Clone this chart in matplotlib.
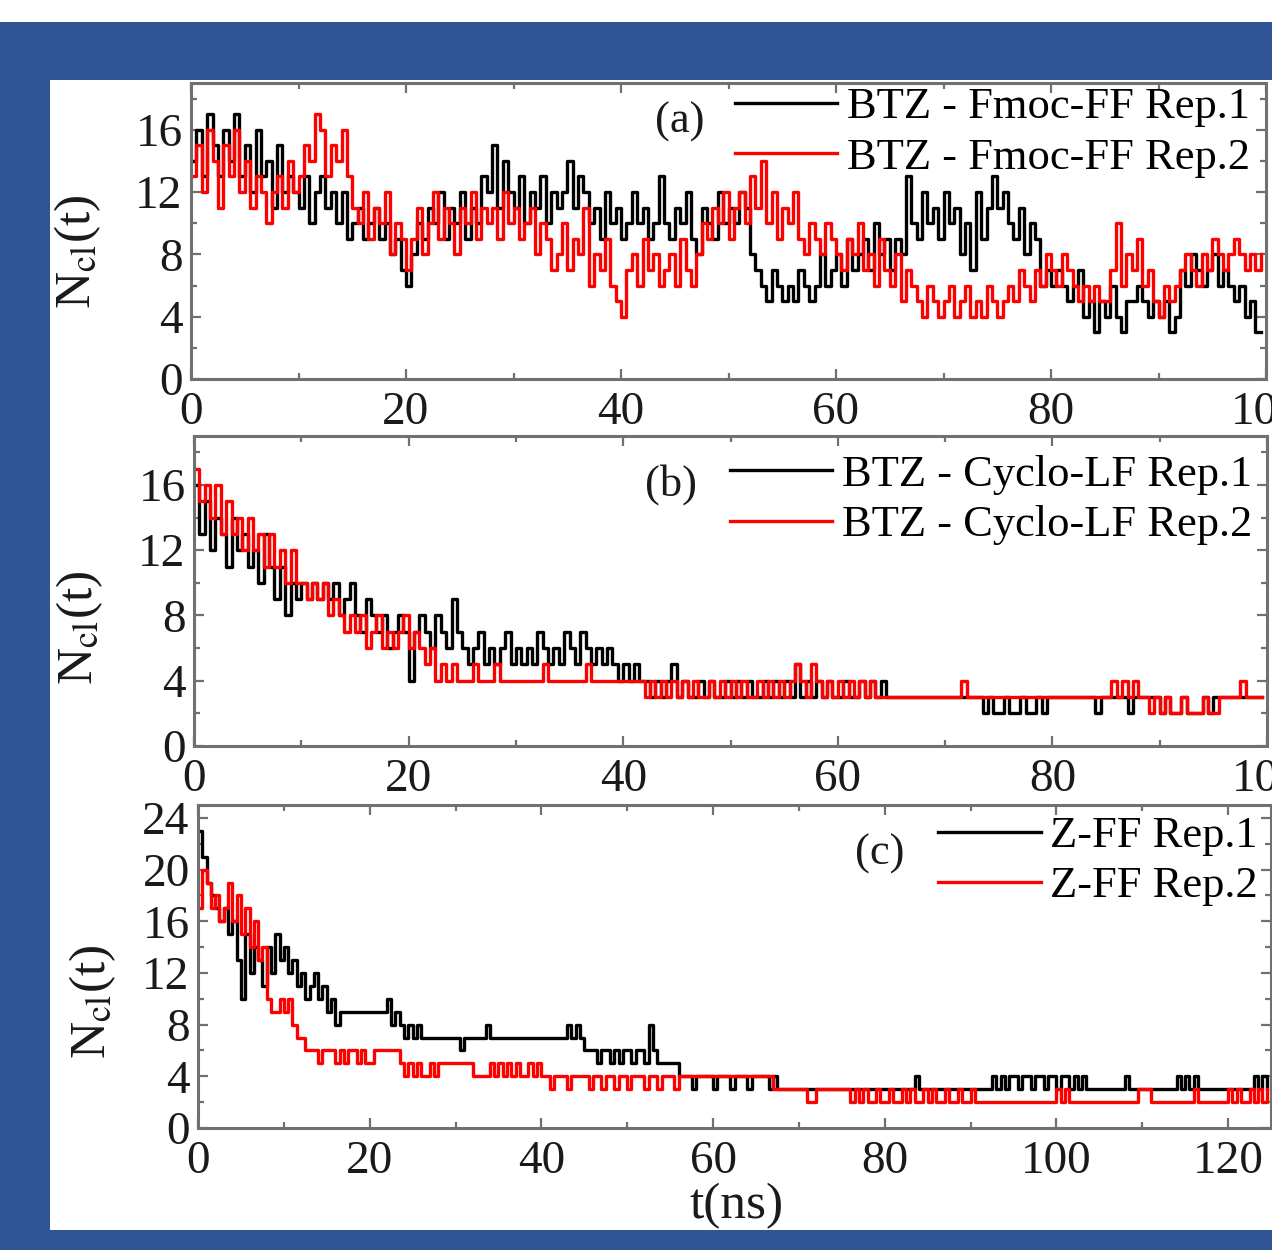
import numpy as np
import matplotlib.pyplot as plt
from matplotlib.patches import Rectangle
from matplotlib.ticker import MultipleLocator

plt.rcParams['font.family'] = ['Liberation Serif', 'DejaVu Serif']
plt.rcParams['mathtext.fontset'] = 'stix'

DT = 0.5  # ns between samples

# (a) BTZ - Fmoc-FF
fmoc_rep1 = [
    14, 16, 13, 17, 15, 13, 16, 14, 17, 13,
    15, 12, 16, 13, 14, 11, 15, 12, 13, 12,
    11, 13, 10, 12, 13, 11, 12, 10, 12, 9,
    10, 11, 9, 10, 11, 9, 10, 8, 9, 7,
    6, 8, 10, 9, 11, 10, 12, 9, 11, 10,
    12, 9, 11, 10, 13, 12, 15, 11, 14, 12,
    11, 13, 10, 12, 11, 13, 10, 12, 11, 12,
    14, 11, 13, 12, 10, 11, 9, 12, 10, 11,
    9, 10, 12, 10, 11, 9, 10, 13, 10, 9,
    11, 10, 12, 9, 8, 11, 10, 9, 12, 10,
    11, 10, 12, 11, 8, 7, 6, 5, 7, 6,
    5, 6, 5, 7, 6, 5, 6, 8, 6, 7,
    8, 6, 9, 7, 8, 9, 7, 10, 8, 9,
    7, 9, 8, 13, 10, 9, 12, 10, 11, 9,
    12, 10, 11, 8, 10, 7, 12, 9, 11, 13,
    11, 12, 10, 9, 11, 8, 10, 9, 6, 7,
    6, 7, 6, 5, 6, 7, 4, 5, 3, 5,
    4, 6, 4, 3, 5, 5, 6, 5, 4, 5,
    4, 5, 3, 4, 7, 6, 8, 7, 6, 7,
    8, 6, 7, 6, 5, 6, 4, 5, 3, 3,
]
fmoc_rep2 = [
    13, 15, 12, 16, 14, 11, 15, 13, 16, 12,
    14, 11, 13, 12, 10, 12, 13, 11, 14, 12,
    13, 15, 14, 17, 16, 13, 15, 14, 16, 13,
    11, 10, 12, 9, 11, 10, 12, 8, 10, 9,
    7, 9, 11, 8, 10, 12, 9, 11, 10, 8,
    11, 10, 12, 9, 11, 10, 11, 9, 12, 10,
    11, 9, 10, 11, 8, 10, 9, 7, 8, 10,
    7, 9, 8, 11, 6, 8, 7, 9, 6, 5,
    4, 7, 8, 6, 9, 7, 8, 6, 7, 8,
    6, 9, 7, 6, 8, 10, 9, 11, 10, 12,
    9, 11, 12, 10, 13, 11, 14, 10, 12, 9,
    11, 10, 12, 9, 8, 10, 9, 8, 10, 9,
    8, 7, 9, 8, 10, 7, 8, 6, 9, 7,
    6, 8, 5, 7, 6, 5, 4, 6, 5, 4,
    5, 6, 4, 5, 6, 4, 5, 4, 6, 5,
    4, 5, 6, 5, 7, 6, 5, 7, 6, 8,
    7, 6, 8, 7, 6, 5, 6, 5, 6, 5,
    5, 7, 10, 6, 8, 7, 9, 6, 7, 5,
    4, 6, 5, 6, 7, 8, 7, 6, 8, 7,
    9, 8, 7, 8, 9, 8, 7, 8, 7, 8,
]

# (b) BTZ - Cyclo-LF
cyclo_rep1 = [
    16, 13, 15, 12, 14, 13, 11, 14, 12, 13,
    11, 12, 10, 13, 11, 9, 11, 8, 10, 9,
    10, 9, 10, 9, 10, 9, 10, 8, 9, 10,
    8, 7, 9, 8, 7, 8, 6, 7, 8, 7,
    4, 7, 8, 7, 6, 8, 7, 6, 9, 7,
    6, 5, 6, 7, 5, 6, 5, 6, 7, 5,
    6, 5, 6, 5, 7, 6, 5, 6, 5, 7,
    6, 5, 7, 6, 5, 6, 5, 6, 5, 4,
    5, 4, 5, 4, 4, 3, 4, 3, 4, 5,
    3, 4, 3, 3, 4, 3, 4, 3, 3, 4,
    3, 4, 3, 4, 3, 3, 4, 3, 4, 3,
    4, 3, 5, 3, 4, 3, 4, 3, 4, 3,
    3, 4, 3, 3, 4, 3, 4, 3, 4, 3,
    3, 3, 3, 3, 3, 3, 3, 3, 3, 3,
    3, 3, 3, 3, 3, 3, 3, 2, 3, 2,
    2, 3, 2, 2, 3, 2, 2, 3, 2, 3,
    3, 3, 3, 3, 3, 3, 3, 3, 2, 3,
    3, 3, 3, 3, 2, 3, 3, 3, 3, 3,
    2, 3, 2, 2, 3, 2, 2, 2, 3, 2,
    3, 3, 3, 3, 3, 3, 3, 3, 3, 3,
]
cyclo_rep2 = [
    17, 15, 16, 14, 16, 13, 15, 13, 14, 12,
    14, 12, 13, 11, 13, 11, 12, 10, 12, 10,
    10, 9, 10, 9, 10, 8, 9, 8, 7, 8,
    7, 8, 6, 7, 8, 6, 7, 6, 7, 8,
    6, 7, 6, 5, 6, 4, 5, 4, 5, 4,
    4, 4, 5, 4, 4, 4, 5, 4, 4, 4,
    4, 4, 4, 4, 4, 5, 4, 4, 4, 4,
    4, 4, 4, 5, 4, 4, 4, 4, 4, 4,
    4, 4, 4, 4, 3, 4, 3, 4, 3, 4,
    3, 4, 3, 4, 3, 3, 4, 3, 4, 3,
    4, 3, 4, 3, 3, 4, 3, 4, 3, 4,
    3, 4, 5, 4, 3, 5, 4, 3, 4, 3,
    4, 3, 4, 3, 4, 3, 4, 3, 3, 3,
    3, 3, 3, 3, 3, 3, 3, 3, 3, 3,
    3, 3, 3, 4, 3, 3, 3, 3, 3, 3,
    3, 3, 3, 3, 3, 3, 3, 3, 3, 3,
    3, 3, 3, 3, 3, 3, 3, 3, 3, 3,
    3, 4, 3, 4, 3, 4, 3, 3, 2, 3,
    2, 3, 2, 2, 3, 2, 2, 2, 3, 2,
    2, 3, 3, 3, 3, 4, 3, 3, 3, 3,
]

# (c) Z-FF
zff_rep1 = [
    23, 21, 19, 18, 17, 16, 17, 15, 16, 13,
    10, 15, 12, 14, 13, 11, 14, 12, 15, 13,
    14, 12, 13, 11, 12, 10, 11, 12, 10, 11,
    9, 10, 8, 9, 9, 9, 9, 9, 9, 9,
    9, 9, 9, 9, 10, 8, 9, 8, 7, 8,
    7, 8, 7, 7, 7, 7, 7, 7, 7, 7,
    7, 6, 7, 7, 7, 7, 7, 8, 7, 7,
    7, 7, 7, 7, 7, 7, 7, 7, 7, 7,
    7, 7, 7, 7, 7, 7, 8, 7, 8, 7,
    6, 6, 6, 5, 6, 6, 5, 6, 5, 6,
    6, 5, 6, 6, 5, 8, 6, 5, 5, 5,
    5, 5, 4, 4, 4, 3, 4, 4, 4, 4,
    3, 4, 4, 4, 3, 4, 4, 4, 3, 4,
    4, 4, 4, 3, 4, 3, 3, 3, 3, 3,
    3, 3, 3, 3, 3, 3, 3, 3, 3, 3,
    3, 3, 3, 3, 3, 3, 3, 3, 3, 3,
    3, 3, 3, 3, 3, 3, 3, 4, 3, 3,
    3, 3, 3, 3, 3, 3, 3, 3, 3, 3,
    3, 3, 3, 3, 3, 4, 3, 4, 3, 4,
    4, 3, 4, 4, 3, 4, 4, 3, 4, 4,
    3, 4, 4, 3, 4, 3, 4, 3, 3, 3,
    3, 3, 3, 3, 3, 3, 4, 3, 3, 3,
    3, 3, 3, 3, 3, 3, 3, 3, 4, 3,
    4, 3, 4, 3, 3, 3, 3, 3, 3, 3,
    3, 3, 3, 3, 3, 3, 4, 3, 4, 3,
]
zff_rep2 = [
    17, 20, 19, 17, 18, 16, 17, 19, 16, 18,
    15, 17, 14, 16, 13, 14, 10, 9, 9, 10,
    9, 10, 8, 7, 7, 6, 6, 6, 5, 6,
    6, 6, 5, 6, 5, 6, 6, 5, 6, 5,
    5, 6, 6, 6, 6, 6, 6, 5, 4, 5,
    4, 5, 4, 4, 5, 4, 5, 5, 5, 5,
    5, 5, 5, 5, 4, 4, 4, 4, 5, 4,
    5, 4, 5, 4, 5, 4, 4, 5, 4, 5,
    4, 4, 3, 4, 4, 4, 3, 4, 4, 4,
    4, 3, 4, 4, 3, 4, 4, 3, 4, 4,
    3, 4, 4, 4, 3, 4, 4, 3, 4, 4,
    4, 3, 4, 4, 4, 4, 4, 4, 4, 4,
    4, 4, 4, 4, 4, 4, 4, 4, 4, 4,
    4, 4, 4, 4, 3, 3, 3, 3, 3, 3,
    3, 3, 2, 2, 3, 3, 3, 3, 3, 3,
    3, 3, 2, 3, 2, 3, 2, 2, 3, 2,
    2, 3, 2, 2, 3, 2, 3, 2, 2, 3,
    2, 3, 2, 2, 3, 2, 2, 3, 2, 2,
    3, 2, 2, 2, 2, 2, 2, 2, 2, 2,
    2, 2, 2, 2, 2, 2, 2, 2, 2, 2,
    3, 2, 3, 2, 2, 2, 2, 2, 2, 2,
    2, 2, 2, 2, 2, 2, 2, 2, 2, 3,
    3, 3, 2, 2, 2, 2, 2, 2, 2, 2,
    2, 2, 3, 2, 2, 2, 2, 2, 2, 2,
    3, 2, 3, 2, 2, 3, 2, 3, 2, 3,
]

series = [
    (fmoc_rep1, fmoc_rep2, 'BTZ - Fmoc-FF Rep.1', 'BTZ - Fmoc-FF Rep.2', '(a)'),
    (cyclo_rep1, cyclo_rep2, 'BTZ - Cyclo-LF Rep.1', 'BTZ - Cyclo-LF Rep.2', '(b)'),
    (zff_rep1, zff_rep2, 'Z-FF Rep.1', 'Z-FF Rep.2', '(c)'),
]

W, H = 1272, 1250
BLUE = '#2f5597'
GREY = '#707070'
INK = '#1a1a1a'

fig = plt.figure(figsize=(W / 100, H / 100), dpi=100, facecolor=BLUE)
fig.patches.append(Rectangle((0, 1 - 22 / H), 1, 22 / H, transform=fig.transFigure,
                             facecolor='white', edgecolor='none', zorder=-10))
fig.patches.append(Rectangle((50 / W, 20 / H), 1, (1230 - 80) / H, transform=fig.transFigure,
                             facecolor='white', edgecolor='none', zorder=-10))

# left, right, top, bottom in pixels
boxes = [(191, 1266, 83, 379), (194, 1267, 436, 746), (198, 1271, 805, 1128)]
xmaxes = [100, 100, 125]
ymaxes = [19, 19, 25]
tag_pos = [(0.455, 0.87), (0.445, 0.845), (0.635, 0.85)]
leg_anchor = [(0.985, 0.986), (0.986, 0.939), (0.988, 0.966)]
ylab_pos = [(-0.082, 0.43), (-0.083, 0.38), (-0.0745, 0.39)]

for i, (r1, r2, lab1, lab2, tag) in enumerate(series):
    l, r, t, b = boxes[i]
    ax = fig.add_axes([l / W, 1 - b / H, (r - l) / W, (b - t) / H])
    ax.patch.set_alpha(0)
    ax.step(np.arange(len(r1)) * DT, r1, where='post', color='black', lw=2.4, label=lab1)
    ax.step(np.arange(len(r2)) * DT, r2, where='post', color='#ff0000', lw=2.4, label=lab2)

    ax.set_xlim(0, xmaxes[i])
    ax.set_ylim(0, ymaxes[i])
    ax.xaxis.set_major_locator(MultipleLocator(20))
    ax.xaxis.set_minor_locator(MultipleLocator(10))
    ax.yaxis.set_major_locator(MultipleLocator(4))
    ax.yaxis.set_minor_locator(MultipleLocator(2))
    ax.tick_params(which='both', direction='in', top=True, right=True, color=GREY,
                   labelcolor=INK, labelsize=34, width=1.6)
    ax.tick_params(which='major', length=7)
    ax.tick_params(which='minor', length=4)
    ax.tick_params(axis='y', pad=6)
    ax.tick_params(axis='x', pad=9)
    for s in ax.spines.values():
        s.set_color(GREY)
        s.set_linewidth(2.2)

    ax.set_ylabel(r'N$_{\rm cl}$(t)', fontsize=37, color=INK)
    ax.yaxis.set_label_coords(*ylab_pos[i])
    ax.text(tag_pos[i][0], tag_pos[i][1], tag, transform=ax.transAxes, fontsize=32,
            color=INK, ha='center', va='center')
    ax.legend(loc='upper right', bbox_to_anchor=leg_anchor[i], frameon=False, fontsize=32,
              handlelength=2.3, handletextpad=0.22, labelspacing=0.23, borderaxespad=0,
              borderpad=0)

    if i == 2:
        ax.set_xlabel('t(ns)', fontsize=37, color=INK, va='top')
        ax.xaxis.set_label_coords(0.502, -0.168)

fig.savefig('out.png', dpi=100, facecolor=BLUE)
